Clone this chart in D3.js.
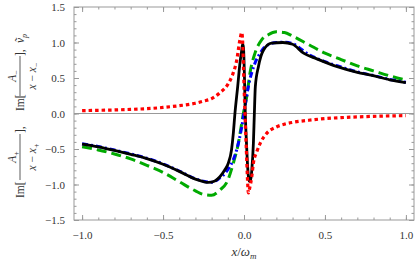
<!DOCTYPE html>
<html>
<head>
<meta charset="utf-8">
<script src="https://cdn.jsdelivr.net/npm/d3@7"></script>
<style>
  body { margin: 0; background: #fff; }
  text { font-family: "Liberation Serif", "DejaVu Serif", serif; }
</style>
</head>
<body>
<div id="chart"></div>
<script>
// tick values
const xMajor = [-1.0, -0.5, 0.0, 0.5, 1.0];
const yMajor = [-1.5, -1.0, -0.5, 0.0, 0.5, 1.0, 1.5];
const xMinor = d3.range(-10, 11).map(d => d / 10);
const yMinor = d3.range(-15, 16).map(d => d / 10);

// red dotted curve
const redX = [-1, -0.9, -0.8, -0.7, -0.6, -0.5, -0.4, -0.3, -0.25, -0.2, -0.15, -0.1, -0.07, -0.045, -0.025, -0.014, -0.008, -0.003, 0.006, 0.016, 0.022, 0.027, 0.035, 0.048, 0.058, 0.079, 0.1, 0.14, 0.2, 0.25, 0.3, 0.4, 0.5, 0.6, 0.7, 0.8, 0.9, 1];
const redY = [0.04, 0.045, 0.05, 0.058, 0.068, 0.085, 0.11, 0.145, 0.175, 0.21, 0.29, 0.41, 0.55, 0.75, 1.04, 1.14, 1.0, 0.62, 0.0, -0.6, -0.95, -1.12, -1.05, -0.89, -0.7, -0.54, -0.42, -0.28, -0.19, -0.15, -0.125, -0.095, -0.072, -0.058, -0.048, -0.04, -0.034, -0.03];

// blue dash-dot curve
const blueX = [-1, -0.9, -0.8, -0.7, -0.6, -0.5, -0.4, -0.3, -0.25, -0.2, -0.15, -0.128, -0.1, -0.07, -0.045, -0.014, 0.005, 0.027, 0.068, 0.1, 0.13, 0.2, 0.25, 0.3, 0.4, 0.5, 0.6, 0.7, 0.8, 0.9, 1];
const blueY = [-0.425, -0.465, -0.515, -0.57, -0.63, -0.71, -0.81, -0.92, -0.955, -0.97, -0.91, -0.87, -0.79, -0.67, -0.51, -0.19, 0.08, 0.38, 0.71, 0.85, 0.94, 1.0, 1.005, 0.985, 0.83, 0.73, 0.655, 0.585, 0.535, 0.48, 0.44];

// green dashed curve
const greenX = [-1, -0.9, -0.8, -0.7, -0.6, -0.5, -0.4, -0.3, -0.25, -0.2, -0.15, -0.1, -0.066, -0.035, -0.004, 0.017, 0.037, 0.068, 0.11, 0.15, 0.2, 0.25, 0.3, 0.4, 0.5, 0.6, 0.7, 0.8, 0.9, 1];
const greenY = [-0.467, -0.513, -0.57, -0.64, -0.73, -0.83, -0.96, -1.09, -1.14, -1.15, -1.08, -0.94, -0.7, -0.42, 0.0, 0.24, 0.57, 0.85, 1.04, 1.11, 1.15, 1.14, 1.09, 0.97, 0.85, 0.76, 0.67, 0.6, 0.53, 0.47];

// black solid curve
const blackX = [-1, -0.9, -0.8, -0.7, -0.6, -0.5, -0.4, -0.3, -0.25, -0.22, -0.18, -0.149, -0.12, -0.097, -0.077, -0.066, -0.056, -0.039, -0.025, -0.014, -0.008, -0.003, 0.003, 0.008, 0.016, 0.024, 0.03, 0.035, 0.042, 0.048, 0.058, 0.064, 0.07, 0.089, 0.12, 0.17, 0.24, 0.3, 0.368, 0.45, 0.576, 0.7, 0.783, 0.9, 1];
const blackY = [-0.43, -0.47, -0.52, -0.575, -0.635, -0.715, -0.815, -0.925, -0.96, -0.97, -0.95, -0.89, -0.8, -0.7, -0.51, -0.28, 0.0, 0.38, 0.71, 0.89, 0.98, 0.92, 0.5, 0.0, -0.45, -0.8, -0.94, -0.96, -0.92, -0.8, -0.42, 0.0, 0.38, 0.66, 0.89, 0.99, 1.0, 0.975, 0.85, 0.77, 0.66, 0.58, 0.54, 0.475, 0.435];

const width = 417, height = 260;
const pLeft = 74, pRight = 414, pTop = 7, pBottom = 220;

const svg = d3.select("#chart").append("svg")
    .attr("width", width)
    .attr("height", height);

const x = d3.scaleLinear().domain([-1.05, 1.05]).range([pLeft, pRight]);
const y = d3.scaleLinear().domain([-1.5, 1.5]).range([pBottom, pTop]);

svg.append("clipPath").attr("id", "clip")
    .append("rect")
    .attr("x", pLeft).attr("y", pTop)
    .attr("width", pRight - pLeft).attr("height", pBottom - pTop);

// zero line
svg.append("line")
    .attr("x1", pLeft).attr("x2", pRight)
    .attr("y1", y(0)).attr("y2", y(0))
    .attr("stroke", "#999")
    .attr("stroke-width", 1);

// curves
const series = [
  { xs: greenX, ys: greenY, color: "#00aa00", width: 3, dash: "10,5" },
  { xs: blueX, ys: blueY, color: "#0000ff", width: 3, dash: "6,3,2,3" },
  { xs: blackX, ys: blackY, color: "#000", width: 2.8, dash: null },
  { xs: redX, ys: redY, color: "#ff0000", width: 3.2, dash: "3.5,3" }
];

const line = d3.line()
    .x(d => x(d[0]))
    .y(d => y(d[1]))
    .curve(d3.curveMonotoneX);

svg.append("g").attr("clip-path", "url(#clip)")
  .selectAll("path")
  .data(series)
  .enter()
  .append("path")
  .attr("d", s => line(s.xs.map((v, i) => [v, s.ys[i]])))
  .attr("fill", "none")
  .attr("stroke", s => s.color)
  .attr("stroke-width", s => s.width)
  .attr("stroke-dasharray", s => s.dash);

// frame with inside ticks
const fmt = d3.format(".1f");
const frameColor = "#999";

function styleAxis(g) {
  g.select(".domain").remove();
  g.attr("font-family", null);
  g.selectAll(".tick line").attr("stroke", frameColor);
  g.selectAll(".tick text")
    .attr("fill", "#333")
    .style("font-size", "11px")
    .style("font-family", "'Liberation Serif', serif");
}

svg.append("g").attr("transform", `translate(0,${pBottom})`)
  .call(d3.axisBottom(x).tickValues(xMinor).tickSize(-2.5).tickFormat(""))
  .call(styleAxis);
svg.append("g").attr("transform", `translate(0,${pBottom})`)
  .call(d3.axisBottom(x).tickValues(xMajor).tickSize(-5).tickPadding(11).tickFormat(fmt))
  .call(styleAxis);
svg.append("g").attr("transform", `translate(0,${pTop})`)
  .call(d3.axisTop(x).tickValues(xMinor).tickSize(-2.5).tickFormat(""))
  .call(styleAxis);
svg.append("g").attr("transform", `translate(0,${pTop})`)
  .call(d3.axisTop(x).tickValues(xMajor).tickSize(-5).tickFormat(""))
  .call(styleAxis);

svg.append("g").attr("transform", `translate(${pLeft},0)`)
  .call(d3.axisLeft(y).tickValues(yMinor).tickSize(-2.5).tickFormat(""))
  .call(styleAxis);
svg.append("g").attr("transform", `translate(${pLeft},0)`)
  .call(d3.axisLeft(y).tickValues(yMajor).tickSize(-5).tickPadding(9).tickFormat(fmt))
  .call(styleAxis);
svg.append("g").attr("transform", `translate(${pRight},0)`)
  .call(d3.axisRight(y).tickValues(yMinor).tickSize(-2.5).tickFormat(""))
  .call(styleAxis);
svg.append("g").attr("transform", `translate(${pRight},0)`)
  .call(d3.axisRight(y).tickValues(yMajor).tickSize(-5).tickFormat(""))
  .call(styleAxis);

svg.append("rect")
    .attr("x", pLeft).attr("y", pTop)
    .attr("width", pRight - pLeft).attr("height", pBottom - pTop)
    .attr("fill", "none")
    .attr("stroke", frameColor)
    .attr("stroke-width", 1);

// x label
const xl = svg.append("text")
    .attr("x", 244).attr("y", 256)
    .attr("text-anchor", "middle")
    .attr("fill", "#333")
    .style("font-size", "13px")
    .style("font-style", "italic");
xl.append("tspan").text("x");
xl.append("tspan").style("font-style", "normal").text("/");
xl.append("tspan").text("ω");
xl.append("tspan").attr("dy", 3).style("font-size", "9px").text("m");

// y label (rotated)
const yl = svg.append("g")
    .attr("transform", "translate(24,198) rotate(-90)")
    .attr("fill", "#333")
    .style("font-size", "11.5px");

function frac(g, cx, len, num, sub, denSub) {
  g.append("line")
    .attr("x1", cx - len / 2).attr("x2", cx + len / 2)
    .attr("y1", -4).attr("y2", -4)
    .attr("stroke", "#333").attr("stroke-width", 0.8);
  const n = g.append("text").attr("x", cx).attr("y", -8).attr("text-anchor", "middle");
  n.append("tspan").style("font-style", "italic").text(num);
  n.append("tspan").attr("dy", 3).style("font-size", "8px").text(sub);
  const d = g.append("text").attr("x", cx).attr("y", 12).attr("text-anchor", "middle");
  d.append("tspan").style("font-style", "italic").text("x");
  d.append("tspan").text(" \u2212 ");
  d.append("tspan").style("font-style", "italic").text("x");
  d.append("tspan").attr("dy", 3).style("font-size", "8px").text(denSub);
}

yl.append("text").attr("x", 0).attr("y", 0).text("Im[");
frac(yl, 41, 46, "A", "+", "+");
yl.append("text").attr("x", 65).attr("y", 0).text("],");
yl.append("text").attr("x", 87).attr("y", 0).text("Im[");
frac(yl, 122, 40, "A", "\u2212", "\u2212");
yl.append("text").attr("x", 142).attr("y", 0).text("],");
const vp = yl.append("text").attr("x", 155).attr("y", 0);
vp.append("tspan").style("font-style", "italic").text("\u1E7D");
vp.append("tspan").attr("dy", 3).style("font-size", "8px").style("font-style", "italic").text("p");
</script>
</body>
</html>
